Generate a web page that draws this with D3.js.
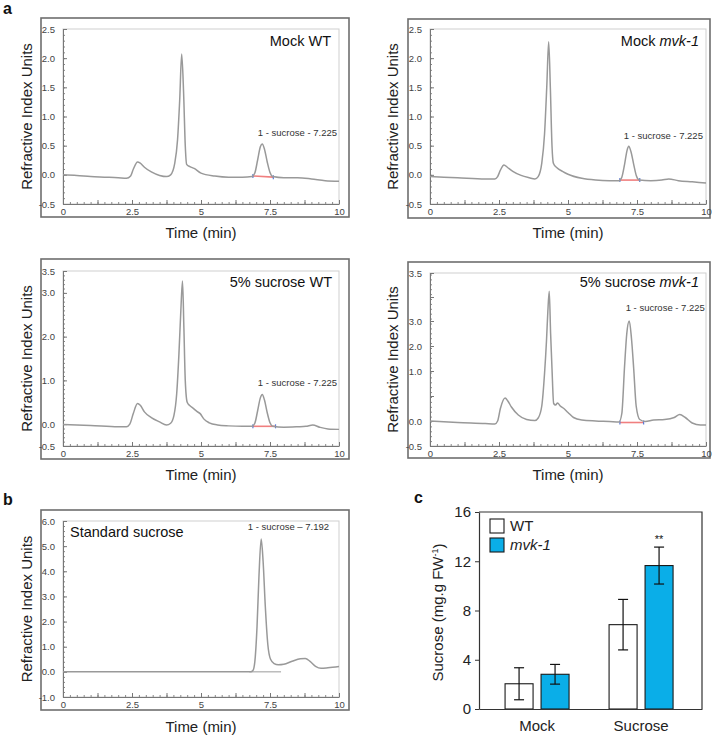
<!DOCTYPE html>
<html><head><meta charset="utf-8">
<script src="https://cdn.jsdelivr.net/npm/d3@7"></script>
<style>
body{margin:0;background:#fff}
svg{display:block}
text{font-family:"Liberation Sans",Arial,Helvetica,sans-serif}
</style>
</head><body>
<svg id="fig" width="720" height="736"></svg>
<script>
// ---------------- DATA ----------------
// chromatogram traces: [time (min), refractive index units]
const mockWT = [[0,0.0],[0.5,-0.01],[1,-0.03],[1.5,-0.04],[2,-0.05],[2.3,-0.06],[2.45,-0.02],[2.55,0.1],[2.7,0.22],[2.8,0.2],[2.95,0.13],[3.2,0.05],[3.5,-0.01],[3.75,-0.03],[3.9,0.0],[4.05,0.2],[4.15,0.6],[4.23,1.3],[4.3,2.07],[4.37,1.4],[4.43,0.5],[4.48,0.18],[4.6,0.14],[4.75,0.11],[5.0,0.03],[5.5,-0.02],[6,-0.04],[6.5,-0.04],[6.85,-0.03],[6.95,0.03],[7.05,0.25],[7.15,0.48],[7.22,0.53],[7.3,0.44],[7.4,0.22],[7.5,0.04],[7.6,-0.03],[8,-0.05],[8.5,-0.05],[9,-0.07],[9.5,-0.1],[10,-0.11]];
const mockMvk = [[0,-0.03],[1,-0.05],[2,-0.07],[2.35,-0.07],[2.45,-0.03],[2.55,0.08],[2.68,0.17],[2.8,0.13],[3.0,0.06],[3.3,-0.01],[3.6,-0.05],[3.8,-0.07],[3.92,-0.03],[4.05,0.2],[4.15,0.7],[4.23,1.5],[4.3,2.28],[4.36,1.5],[4.42,0.5],[4.47,0.2],[4.6,0.12],[4.8,0.06],[5.0,0.01],[5.5,-0.06],[6,-0.09],[6.5,-0.1],[6.85,-0.1],[6.95,-0.04],[7.05,0.18],[7.14,0.42],[7.2,0.49],[7.28,0.4],[7.38,0.18],[7.48,-0.02],[7.58,-0.09],[8,-0.1],[8.4,-0.09],[8.65,-0.07],[9,-0.1],[9.5,-0.12],[10,-0.14]];
const sucWT = [[0,-0.01],[1,-0.03],[2,-0.06],[2.3,-0.06],[2.42,0.0],[2.55,0.25],[2.7,0.47],[2.8,0.43],[2.95,0.28],[3.2,0.15],[3.5,0.05],[3.75,-0.02],[3.9,0.02],[4.02,0.2],[4.12,0.7],[4.2,1.6],[4.27,2.6],[4.33,3.27],[4.38,2.2],[4.43,1.0],[4.5,0.5],[4.6,0.42],[4.72,0.36],[4.85,0.29],[4.97,0.24],[5.1,0.12],[5.3,0.03],[5.6,-0.02],[6,-0.04],[6.5,-0.05],[6.85,-0.05],[6.95,0.02],[7.05,0.3],[7.15,0.6],[7.22,0.68],[7.3,0.55],[7.4,0.26],[7.5,0.03],[7.6,-0.05],[8,-0.07],[8.5,-0.06],[8.8,-0.05],[9.05,-0.02],[9.3,-0.07],[9.6,-0.11],[10,-0.12]];
const sucMvk = [[0,0.0],[1,-0.03],[2,-0.05],[2.35,-0.06],[2.45,0.0],[2.55,0.25],[2.72,0.46],[2.82,0.4],[2.95,0.28],[3.2,0.12],[3.5,0.03],[3.8,0.01],[3.92,0.06],[4.05,0.3],[4.15,0.95],[4.22,2.2],[4.27,3.1],[4.32,3.31],[4.37,2.5],[4.42,1.1],[4.48,0.35],[4.55,0.32],[4.62,0.36],[4.72,0.3],[4.85,0.25],[5.0,0.17],[5.2,0.07],[5.5,0.02],[6,0.0],[6.5,-0.01],[6.85,-0.02],[6.95,0.15],[7.05,1.2],[7.13,2.5],[7.22,3.0],[7.3,2.3],[7.38,1.1],[7.47,0.3],[7.6,0.03],[7.8,-0.01],[8.1,0.02],[8.5,0.03],[8.85,0.07],[9.05,0.13],[9.25,0.07],[9.5,-0.04],[9.8,-0.08],[10,-0.08]];
const standard = [[0,0],[1,0],[2,0],[3,0],[4,0],[5,0],[6,0],[6.8,0],[6.88,0.05],[6.95,0.4],[7.03,1.8],[7.1,3.8],[7.18,5.28],[7.25,4.4],[7.33,2.6],[7.42,1.1],[7.52,0.5],[7.65,0.33],[7.8,0.28],[8.0,0.3],[8.3,0.42],[8.6,0.52],[8.78,0.53],[8.95,0.42],[9.15,0.22],[9.35,0.14],[9.6,0.16],[10,0.21]];
// integration baselines [start, end] as [time, value]
const baseMockWT = [[6.88,-0.02],[7.62,-0.04]];
const baseMockMvk = [[6.88,-0.09],[7.6,-0.09]];
const baseSucWT = [[6.88,-0.05],[7.7,-0.05]];
const baseSucMvk = [[6.88,-0.03],[7.74,-0.03]];
const baseStandard = [[6.75,0],[7.9,0]];
// axis ticks
const timeTickLabels = [0, 2.5, 5, 7.5, 10];
const yTicksMock = [-0.5, 0, 0.5, 1, 1.5, 2, 2.5];
const yTicksSucWT = [-0.5, 0, 1, 2, 3, 3.5];
const yTicksSucMvk = [-0.5, 0, 0.5, 1, 2, 3, 3.25, 3.5];
const yLabelsSucMvk = ["-0.5","0.0","","1.0","2.0","3.0","","3.5"];
const yTicksStd = [-1, 0, 1, 2, 3, 4, 5, 6];

// bar chart (panel c)
const conditions = ["Mock", "Sucrose"];
const genotypes = ["WT", "mvk-1"];
const wtMean = [2.05, 6.85];
const wtErr = [1.3, 2.05];
const mvkMean = [2.82, 11.65];
const mvkErr = [0.8, 1.5];
const barTicks = [0, 4, 8, 12, 16];

// ---------------- DRAWING ----------------
const svg = d3.select("#fig");
const FONT = '"Liberation Sans",Arial,Helvetica,sans-serif';

function chromatogram(c) {
  const g = svg.append("g");
  g.append("rect")
    .attr("x", c.frame[0]).attr("y", c.frame[1])
    .attr("width", c.frame[2] - c.frame[0]).attr("height", c.frame[3] - c.frame[1])
    .attr("fill", "#fff").attr("stroke", "#6e6e6e").attr("stroke-width", 1.6);
  const x = d3.scaleLinear().domain([0, 10]).range([c.inner[0], c.inner[2]]);
  const y = d3.scaleLinear().domain(c.yDomain).range(c.yRange);
  g.append("rect")
    .attr("x", c.inner[0]).attr("y", c.inner[1])
    .attr("width", c.inner[2] - c.inner[0]).attr("height", c.inner[3] - c.inner[1])
    .attr("fill", c.bg || "#fff").attr("stroke", "#cfcfcf").attr("stroke-width", 1);

  // minor x ticks
  g.append("g").attr("transform", `translate(0,${c.inner[3]})`)
    .call(d3.axisBottom(x).tickValues(d3.range(0, 10.001, 0.25)).tickSize(-2).tickFormat(""))
    .call(a => a.select(".domain").remove())
    .call(a => a.selectAll("line").attr("stroke", "#888"));
  // major x ticks
  g.append("g").attr("transform", `translate(0,${c.inner[3]})`)
    .call(d3.axisBottom(x).tickValues(d3.range(0, 10.001, 1.25)).tickSize(-4).tickFormat(""))
    .call(a => a.select(".domain").remove())
    .call(a => a.selectAll("line").attr("stroke", "#777"));
  // x labels + domain
  g.append("g").attr("transform", `translate(0,${c.inner[3]})`)
    .call(d3.axisBottom(x).tickValues(timeTickLabels).tickSize(-4).tickSizeOuter(0).tickPadding(4).tickFormat(d => String(d)))
    .call(a => a.select(".domain").attr("stroke", "#777"))
    .call(a => a.selectAll("line").attr("stroke", "#777"))
    .call(a => a.selectAll("text").attr("font-size", 9.5).attr("fill", "#444").attr("font-family", FONT));

  // minor y ticks
  g.append("g").attr("transform", `translate(${c.inner[0]},0)`)
    .call(d3.axisLeft(y).tickValues(c.yMinor).tickSize(-2).tickFormat(""))
    .call(a => a.select(".domain").remove())
    .call(a => a.selectAll("line").attr("stroke", "#888"));
  // major y ticks
  g.append("g").attr("transform", `translate(${c.inner[0]},0)`)
    .call(d3.axisLeft(y).tickValues(c.yTicks).tickSize(-4).tickSizeOuter(0).tickPadding(8)
      .tickFormat((d, i) => c.yLabels ? c.yLabels[i] : d.toFixed(1)))
    .call(a => a.select(".domain").attr("stroke", "#777"))
    .call(a => a.selectAll("line").attr("stroke", "#777"))
    .call(a => a.selectAll("text").attr("font-size", 9.5).attr("fill", "#444").attr("font-family", FONT));

  // integration baseline
  const line = d3.line().x(d => x(d[0])).y(d => y(d[1]));
  if (c.baseline) {
    g.append("path").datum(c.baseline).attr("d", line)
      .attr("fill", "none").attr("stroke", c.baseColor || "#f07f7f").attr("stroke-width", c.baseWidth || 1.6);
    if (c.baseMarks !== false) {
      g.selectAll(null).data(c.baseline).join("line")
        .attr("x1", d => x(d[0])).attr("x2", d => x(d[0]))
        .attr("y1", d => y(d[1]) - 2).attr("y2", d => y(d[1]) + 2)
        .attr("stroke", "#5b7bd6").attr("stroke-width", 1.2);
    }
  }
  // trace
  g.append("path").datum(c.data)
    .attr("d", d3.line().x(d => x(d[0])).y(d => y(d[1])).curve(d3.curveMonotoneX))
    .attr("fill", "none").attr("stroke", "#999").attr("stroke-width", 1.5);

  // peak annotation
  g.append("text").attr("x", x(c.annot[1])).attr("y", y(c.annot[2]))
    .attr("text-anchor", "end").attr("font-size", 9.5).attr("fill", "#333")
    .text(c.annot[0]);

  // title
  const t = g.append("text").attr("y", c.titlePos[1]).attr("font-size", 14.5).attr("fill", "#111");
  if (c.titleAnchor === "start") t.attr("x", c.titlePos[0]).attr("text-anchor", "start");
  else t.attr("x", c.titlePos[0]).attr("text-anchor", "end");
  t.append("tspan").text(c.title[0]);
  if (c.title[1]) t.append("tspan").attr("font-style", "italic").text(c.title[1]);

  // axis titles
  const cx = (c.inner[0] + c.inner[2]) / 2, cy = (c.inner[1] + c.inner[3]) / 2;
  g.append("text").attr("transform", `translate(${c.yTitleX},${cy}) rotate(-90)`)
    .attr("text-anchor", "middle").attr("dy", "0.35em").attr("font-size", 15).attr("fill", "#222")
    .text("Refractive Index Units");
  g.append("text").attr("x", cx).attr("y", c.xTitleY).attr("text-anchor", "middle")
    .attr("dy", "0.35em").attr("font-size", 15).attr("fill", "#222").text("Time (min)");
}

// Panel a: Mock WT
chromatogram({
  frame: [41, 18, 349, 217], inner: [63, 29, 339, 204],
  yDomain: [-0.5, 2.5], yRange: [204, 29], yTicks: yTicksMock,
  yMinor: d3.range(-0.5, 2.501, 0.1),
  data: mockWT, baseline: baseMockWT,
  annot: ["1 - sucrose - 7.225", 9.93, 0.67],
  title: ["Mock WT"], titlePos: [331, 46],
  yTitleX: 27, xTitleY: 233
});
// Panel a: Mock mvk-1
chromatogram({
  frame: [408, 19, 710, 218], inner: [430, 29, 706, 204],
  yDomain: [-0.5, 2.5], yRange: [204, 29], yTicks: yTicksMock,
  yMinor: d3.range(-0.5, 2.501, 0.1),
  data: mockMvk, baseline: baseMockMvk,
  annot: ["1 - sucrose - 7.225", 9.89, 0.62],
  title: ["Mock ", "mvk-1"], titlePos: [699, 46],
  yTitleX: 393, xTitleY: 233
});
// Panel a: 5% sucrose WT
chromatogram({
  frame: [41, 259, 349, 459], inner: [63, 271, 339, 446],
  yDomain: [-0.5, 3.5], yRange: [446, 271], yTicks: yTicksSucWT,
  yMinor: d3.range(-0.5, 3.501, 0.1),
  data: sucWT, baseline: baseSucWT,
  annot: ["1 - sucrose - 7.225", 9.93, 0.88],
  title: ["5% sucrose WT"], titlePos: [332, 287],
  yTitleX: 27, xTitleY: 475
});
// Panel a: 5% sucrose mvk-1 (piecewise axis as in the original)
(function () {
  const yd = [-0.5, 1, 3, 3.5], yr = [446, 371, 321, 273];
  const ys = d3.scaleLinear().domain(yd).range(yr);
  const minor = d3.range(446, 272, -4.9).map(p => ys.invert(p));
  chromatogram({
    frame: [408, 262, 710, 458], inner: [430, 273, 706, 446],
    yDomain: yd, yRange: yr, yTicks: yTicksSucMvk, yLabels: yLabelsSucMvk,
    yMinor: minor,
    data: sucMvk, baseline: baseSucMvk,
    annot: ["1 - sucrose - 7.225", 9.96, 3.1],
    title: ["5% sucrose ", "mvk-1"], titlePos: [699, 287],
    yTitleX: 393, xTitleY: 475
  });
})();
// Panel b: Standard sucrose
chromatogram({
  frame: [41, 510, 349, 710], inner: [63, 521, 339, 697],
  yDomain: [-1, 6], yRange: [697, 521], yTicks: yTicksStd,
  yMinor: d3.range(-1, 6.001, 0.2),
  data: standard, baseline: baseStandard, baseColor: "#9a9a9a", baseWidth: 1, baseMarks: false,
  annot: ["1 - sucrose \u2013 7.192", 9.64, 5.65],
  title: ["Standard sucrose"], titlePos: [70, 537], titleAnchor: "start",
  yTitleX: 27, xTitleY: 727
});

// Panel labels
[["a", 3, 14], ["b", 3, 505], ["c", 414, 503]].forEach(([l, px, py]) => {
  svg.append("text").attr("x", px).attr("y", py).attr("font-size", 16).attr("font-weight", "bold")
    .attr("fill", "#111").text(l);
});

// ---------------- Panel c: bar chart ----------------
(function () {
  const left = 479, right = 702, top = 512, bottom = 709;
  const y = d3.scaleLinear().domain([0, 16]).range([bottom, top]);
  const x0 = d3.scaleBand().domain(conditions).range([left, right])
    .paddingInner(0.2).paddingOuter(0.172).align(0.46);
  const x1 = d3.scaleBand().domain(genotypes).range([0, x0.bandwidth()])
    .paddingInner(0.222).paddingOuter(0.267);
  const colors = { "WT": "#ffffff", "mvk-1": "#0aaee8" };
  const g = svg.append("g");

  const rows = [];
  conditions.forEach((c, i) => {
    rows.push({ c, gt: "WT", m: wtMean[i], e: wtErr[i] });
    rows.push({ c, gt: "mvk-1", m: mvkMean[i], e: mvkErr[i] });
  });

  g.selectAll("rect.bar").data(rows).join("rect").attr("class", "bar")
    .attr("x", d => x0(d.c) + x1(d.gt)).attr("width", x1.bandwidth())
    .attr("y", d => y(d.m)).attr("height", d => y(0) - y(d.m))
    .attr("fill", d => colors[d.gt]).attr("stroke", "#1a1a1a").attr("stroke-width", 1.1);

  // error bars
  const eb = g.selectAll("g.eb").data(rows).join("g").attr("class", "eb")
    .attr("transform", d => `translate(${x0(d.c) + x1(d.gt) + x1.bandwidth() / 2},0)`);
  eb.append("line").attr("y1", d => y(d.m - d.e)).attr("y2", d => y(d.m + d.e)).attr("stroke", "#111").attr("stroke-width", 1.2);
  eb.append("line").attr("x1", -5).attr("x2", 5).attr("y1", d => y(d.m + d.e)).attr("y2", d => y(d.m + d.e)).attr("stroke", "#111").attr("stroke-width", 1.2);
  eb.append("line").attr("x1", -5).attr("x2", 5).attr("y1", d => y(d.m - d.e)).attr("y2", d => y(d.m - d.e)).attr("stroke", "#111").attr("stroke-width", 1.2);

  // significance
  const sig = rows[3];
  g.append("text").attr("x", x0(sig.c) + x1(sig.gt) + x1.bandwidth() / 2).attr("y", y(sig.m + sig.e) - 4)
    .attr("text-anchor", "middle").attr("font-size", 11).attr("fill", "#111").text("**");

  // frame (top and right)
  g.append("path").attr("d", `M${left},${top}H${right}V${bottom}`).attr("fill", "none")
    .attr("stroke", "#333").attr("stroke-width", 1.2);

  // y axis
  g.append("g").attr("transform", `translate(${left},0)`)
    .call(d3.axisLeft(y).tickValues(barTicks).tickSize(4).tickSizeOuter(0).tickPadding(4).tickFormat(d => String(d)))
    .call(a => a.select(".domain").attr("stroke", "#333").attr("stroke-width", 1.2))
    .call(a => a.selectAll("line").attr("stroke", "#333"))
    .call(a => a.selectAll("text").attr("font-size", 15).attr("fill", "#222").attr("font-family", FONT));
  // x axis
  g.append("g").attr("transform", `translate(0,${bottom})`)
    .call(d3.axisBottom(x0).tickSize(0).tickPadding(11))
    .call(a => a.select(".domain").attr("stroke", "#333").attr("stroke-width", 1.2))
    .call(a => a.selectAll("text").attr("font-size", 15).attr("fill", "#222").attr("font-family", FONT));

  // y title
  const yt = g.append("text").attr("transform", `translate(438,${(top + bottom) / 2 + 2}) rotate(-90)`)
    .attr("text-anchor", "middle").attr("dy", "0.35em").attr("font-size", 15).attr("fill", "#222");
  yt.append("tspan").text("Sucrose (mg.g FW");
  yt.append("tspan").attr("font-size", 9).attr("dy", "-0.6em").text("-1");
  yt.append("tspan").attr("dy", "0.4em").text(")");

  // legend
  const lg = g.selectAll("g.lg").data(genotypes).join("g").attr("class", "lg")
    .attr("transform", (d, i) => `translate(490,${519 + i * 19})`);
  lg.append("rect").attr("width", 14).attr("height", 14)
    .attr("fill", d => colors[d]).attr("stroke", "#1a1a1a").attr("stroke-width", 1.1);
  lg.append("text").attr("x", 20).attr("y", 7).attr("dy", "0.35em").attr("font-size", 15).attr("fill", "#222")
    .attr("font-style", d => d === "WT" ? "normal" : "italic").text(d => d);
})();
</script>
</body></html>
